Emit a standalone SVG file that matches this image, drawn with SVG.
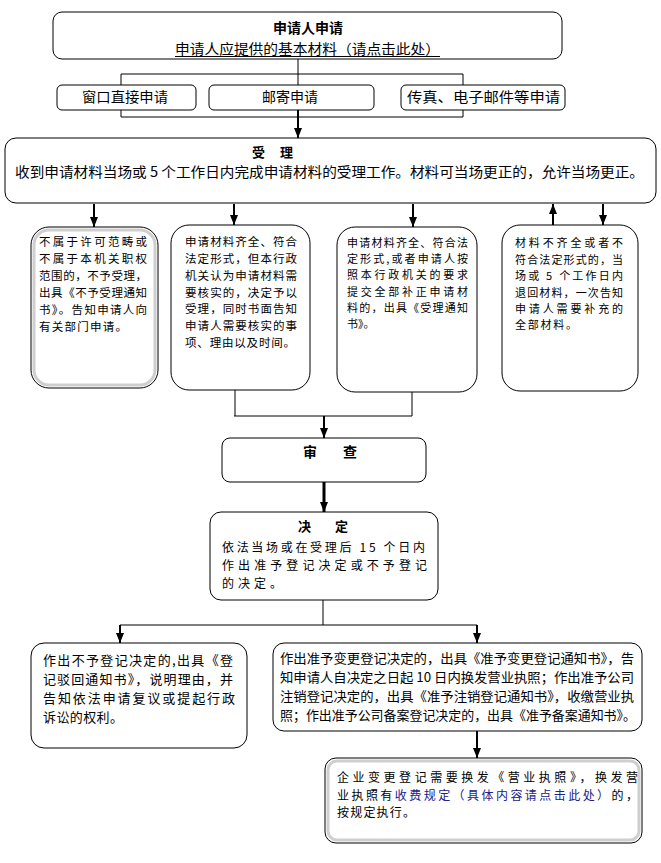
<svg xmlns="http://www.w3.org/2000/svg" width="661" height="863" viewBox="0 0 661 863">
<defs>
<style>
.box{fill:#fff;stroke:#000;stroke-width:1}
.inner{fill:none;stroke:#cfcfcf;stroke-width:3}
.ln{fill:none;stroke:#000;stroke-width:1}
.ar{fill:none;stroke:#000;stroke-width:2}
.f{font-family:"Noto Sans CJK SC","Noto Sans",sans-serif;fill:#000}
.s11{font-size:11px}
.s115{font-size:11.5px}
.s12{font-size:12px}
.s13{font-size:13px}
.s14{font-size:14px}
.b{font-weight:bold}
.link{fill:#20208a}
</style>
<marker id="ah" markerUnits="userSpaceOnUse" markerWidth="10" markerHeight="10" viewBox="0 0 10 10" refX="10" refY="5" orient="auto">
<path d="M0,1 L10,5 L0,9 Z" fill="#000"/>
</marker>
</defs>
<rect width="661" height="863" fill="#fff"/>
<g id="connectors">
<path class="ln" d="M298,59 V85 M121,74 H463 M121,74 V85 M463,74 V85"/>
<path class="ln" d="M121,110 V117 H463 V110"/>
<path class="ar" d="M298,110 V138" marker-end="url(#ah)"/>
<path class="ar" d="M94,204 V227" marker-end="url(#ah)"/>
<path class="ar" d="M234,204 V225" marker-end="url(#ah)"/>
<path class="ar" d="M413,204 V227" marker-end="url(#ah)"/>
<path class="ar" d="M553,225 V204" marker-end="url(#ah)"/>
<path class="ar" d="M603,204 V225" marker-end="url(#ah)"/>
<path class="ln" d="M235,390 V416 M412,392 V416 M234,416 H412"/>
<path class="ar" d="M324,416 V438" marker-end="url(#ah)"/>
<path class="ar" style="stroke-width:3" d="M324,482 V512" marker-end="url(#ah)"/>
<path class="ln" d="M323,600 V625 M120,625 H477"/>
<path class="ar" d="M120,625 V643" marker-end="url(#ah)"/>
<path class="ar" d="M477,625 V643" marker-end="url(#ah)"/>
<path class="ar" d="M477,731 V758" marker-end="url(#ah)"/>
</g>
<g id="apply">
<rect class="box" x="53" y="12" width="509" height="47" rx="9"/>
<text class="f s14 b" x="273" y="33" textLength="70" lengthAdjust="spacingAndGlyphs">申请人申请</text>
<text class="f s14" x="175" y="54" textLength="265" lengthAdjust="spacingAndGlyphs">申请人应提供的基本材料（请点击此处）</text>
<line class="ln" x1="175" y1="56.5" x2="440" y2="56.5"/>
</g>
<g id="window">
<rect class="box" x="57" y="85" width="139" height="25" rx="5"/>
<text class="f s14" x="82" y="102" textLength="86" lengthAdjust="spacingAndGlyphs">窗口直接申请</text>
</g>
<g id="mail">
<rect class="box" x="209" y="85" width="165" height="25" rx="5"/>
<text class="f s14" x="262" y="102" textLength="56" lengthAdjust="spacingAndGlyphs">邮寄申请</text>
</g>
<g id="fax">
<rect class="box" x="401" y="85" width="164" height="25" rx="5"/>
<text class="f s14" x="407" y="102" textLength="153" lengthAdjust="spacingAndGlyphs">传真、电子邮件等申请</text>
</g>
<g id="accept">
<rect class="box" x="5" y="138" width="651" height="65" rx="11"/>
<text class="f s13 b" x="252" y="157" textLength="41" lengthAdjust="spacing">受理</text>
<text class="f s14" x="15" y="177" textLength="629" lengthAdjust="spacingAndGlyphs">收到申请材料当场或 5 个工作日内完成申请材料的受理工作。材料可当场更正的，允许当场更正。</text>
</g>
<g id="reject">
<rect class="box" x="31" y="227" width="127" height="161" rx="18"/>
<rect class="inner" x="34" y="230" width="121" height="155" rx="15"/>
<g class="f s115">
<text x="39" y="246" textLength="108" lengthAdjust="spacing">不属于许可范畴或</text>
<text x="39" y="263" textLength="108" lengthAdjust="spacing">不属于本机关职权</text>
<text x="39" y="280" textLength="108" lengthAdjust="spacing">范围的，不予受理，</text>
<text x="39" y="297" textLength="108" lengthAdjust="spacing">出具《不予受理通知</text>
<text x="39" y="314" textLength="108" lengthAdjust="spacing">书》。告知申请人向</text>
<text x="39" y="331" textLength="88" lengthAdjust="spacing">有关部门申请。</text>
</g>
</g>
<g id="verify">
<rect class="box" x="171" y="225" width="139" height="165" rx="18"/>
<g class="f s115">
<text x="185" y="246" textLength="112" lengthAdjust="spacing">申请材料齐全、符合</text>
<text x="185" y="263" textLength="112" lengthAdjust="spacing">法定形式，但本行政</text>
<text x="185" y="280" textLength="112" lengthAdjust="spacing">机关认为申请材料需</text>
<text x="185" y="296.5" textLength="112" lengthAdjust="spacing">要核实的，决定予以</text>
<text x="185" y="313" textLength="112" lengthAdjust="spacing">受理，同时书面告知</text>
<text x="185" y="330" textLength="112" lengthAdjust="spacing">申请人需要核实的事</text>
<text x="185" y="346.5" textLength="110" lengthAdjust="spacing">项、理由以及时间。</text>
</g>
</g>
<g id="complete">
<rect class="box" x="337" y="227" width="140" height="165" rx="18"/>
<g class="f s11">
<text x="347" y="247" textLength="121" lengthAdjust="spacing">申请材料齐全、符合法</text>
<text x="347" y="263" textLength="121" lengthAdjust="spacing">定形式,或者申请人按</text>
<text x="347" y="279" textLength="121" lengthAdjust="spacing">照本行政机关的要求</text>
<text x="347" y="296" textLength="121" lengthAdjust="spacing">提交全部补正申请材</text>
<text x="347" y="312" textLength="121" lengthAdjust="spacing">料的，出具《受理通知</text>
<text x="347" y="328">书》。</text>
</g>
</g>
<g id="incomplete">
<rect class="box" x="502" y="225" width="136" height="166" rx="18"/>
<g class="f s11">
<text x="515" y="247" textLength="108" lengthAdjust="spacing">材料不齐全或者不</text>
<text x="515" y="263.5" textLength="108" lengthAdjust="spacing">符合法定形式的，当</text>
<text x="515" y="280" textLength="108" lengthAdjust="spacing">场或 5 个工作日内</text>
<text x="515" y="296.5" textLength="108" lengthAdjust="spacing">退回材料，一次告知</text>
<text x="515" y="313" textLength="108" lengthAdjust="spacing">申请人需要补充的</text>
<text x="515" y="329" textLength="62" lengthAdjust="spacing">全部材料。</text>
</g>
</g>
<g id="review">
<rect class="box" x="222" y="438" width="204" height="44" rx="8"/>
<text class="f s14 b" x="303" y="457" textLength="54" lengthAdjust="spacing">审　查</text>
</g>
<g id="decide">
<rect class="box" x="210" y="512" width="228" height="88" rx="11"/>
<text class="f s13 b" x="298" y="531" textLength="50" lengthAdjust="spacing">决　定</text>
<g class="f s12">
<text x="222" y="552" textLength="203" lengthAdjust="spacing">依法当场或在受理后 15 个日内</text>
<text x="222" y="570" textLength="205" lengthAdjust="spacing">作出准予登记决定或不予登记</text>
<text x="222" y="588" textLength="60" lengthAdjust="spacing">的决定。</text>
</g>
</g>
<g id="refuse">
<rect class="box" x="31" y="643" width="216" height="105" rx="13"/>
<g class="f s13">
<text x="43" y="665" textLength="190" lengthAdjust="spacing">作出不予登记决定的,出具《登</text>
<text x="43" y="684" textLength="190" lengthAdjust="spacing">记驳回通知书》，说明理由，并</text>
<text x="43" y="703" textLength="192" lengthAdjust="spacing">告知依法申请复议或提起行政</text>
<text x="43" y="722" textLength="80" lengthAdjust="spacing">诉讼的权利。</text>
</g>
</g>
<g id="approve">
<rect class="box" x="273" y="643" width="369" height="88" rx="11"/>
<g class="f s13">
<text x="280" y="663" textLength="354" lengthAdjust="spacingAndGlyphs">作出准予变更登记决定的，出具《准予变更登记通知书》，告</text>
<text x="280" y="682" textLength="354" lengthAdjust="spacingAndGlyphs">知申请人自决定之日起 10 日内换发营业执照；作出准予公司</text>
<text x="280" y="701" textLength="354" lengthAdjust="spacingAndGlyphs">注销登记决定的，出具《准予注销登记通知书》，收缴营业执</text>
<text x="280" y="720" textLength="356" lengthAdjust="spacingAndGlyphs">照；作出准予公司备案登记决定的，出具《准予备案通知书》。</text>
</g>
</g>
<g id="license">
<rect class="box" x="325" y="758" width="317" height="85" rx="11"/>
<rect class="inner" x="328" y="761" width="311" height="79" rx="9"/>
<g class="f s12">
<text x="337" y="782" textLength="301" lengthAdjust="spacing">企业变更登记需要换发《营业执照》，换发营</text>
<text x="337" y="799.5" textLength="301" lengthAdjust="spacing">业执照有<tspan class="link">收费规定（具体内容请点击此处）</tspan>的，</text>
<text x="337" y="817" textLength="78" lengthAdjust="spacing">按规定执行。</text>
</g>
</g>
</svg>
